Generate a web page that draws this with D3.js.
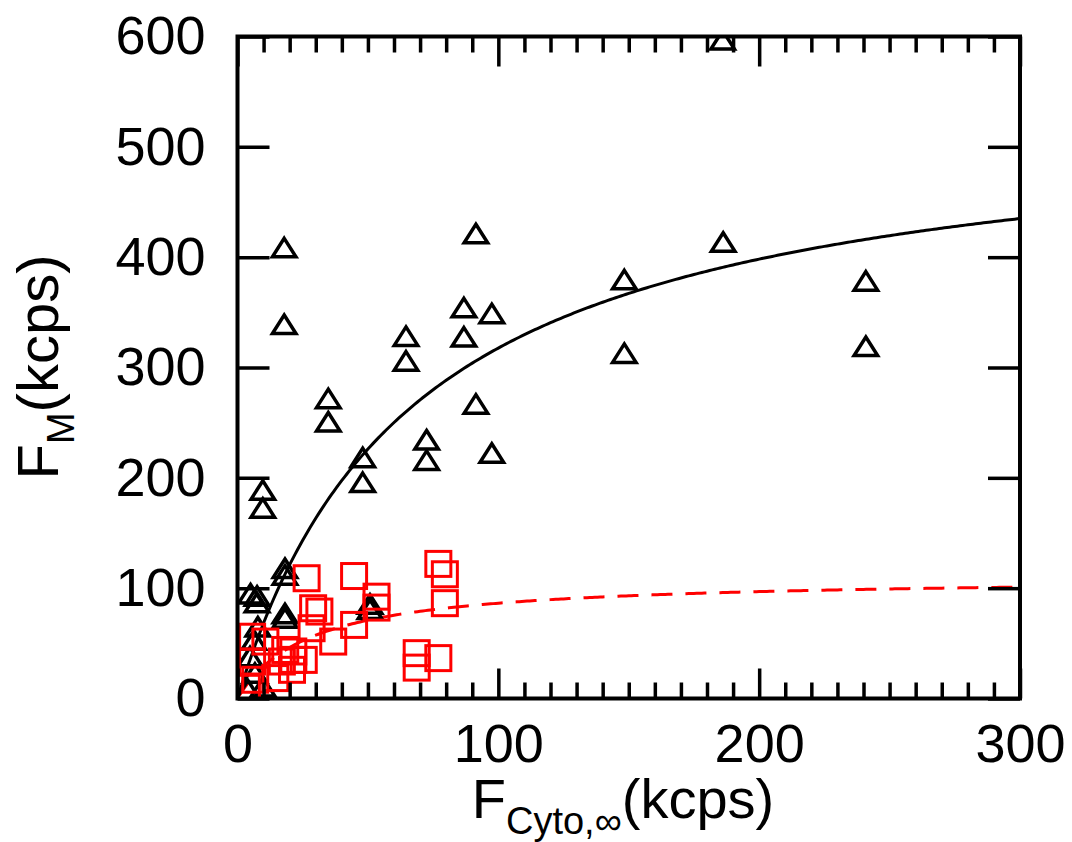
<!DOCTYPE html>
<html>
<head>
<meta charset="utf-8">
<script src="https://cdn.jsdelivr.net/npm/d3@7"></script>
<style>
  html, body { margin: 0; padding: 0; background: #fff; }
  svg { display: block; }
  text { font-family: "Liberation Sans", Arial, Helvetica, sans-serif; fill: #000; }
</style>
</head>
<body>
<svg id="chart" width="1072" height="842"></svg>
<script>
// Membrane brightness F_M against cytosolic brightness F_Cyto,∞ (kcps)
const xTicks = [0, 100, 200, 300];
const yTicks = [0, 100, 200, 300, 400, 500, 600];

// open black triangles
const triX = [17.9, 17.9, 91.4, 86.8, 97.5, 86.8, 64.6, 64.6, 34.8, 34.8, 91.4, 72.5, 72.5, 97.5,
              48.0, 48.0, 9.7, 9.7, 186.2, 148.3, 148.3, 240.9, 240.9, 186.0,
              18.2, 18.2, 18.2, 18.2, 50.8, 50.8, 5.0, 7.5, 7.5, 7.8, 6.3, 4.8, 6.7, 9.8, 4.0];
const triY = [408.7, 339.2, 421.4, 354.3, 349.0, 327.8, 328.4, 306.0, 272.0, 250.8, 267.0, 234.5, 216.0, 222.5,
              218.5, 195.9, 189.0, 172.7, 413.8, 379.7, 313.0, 378.5, 319.3, 597.0,
              118, 112, 77, 73, 85.7, 80.9, 95, 93, 87, 65, 53, 38, 23, 10.6, 8];

// open red squares
const sqX = [26.5, 44.7, 77.0, 79.5, 79.5, 53.3, 53.3, 29.0, 31.4, 28.4, 44.7, 36.7, 68.7, 68.7, 77.0,
             21.4, 21.4, 5.6, 10.7, 18.3, 17.0, 5.6, 6.8, 14.5, 20.9, 3.6, 25.4];
const sqY = [109, 111, 122, 112.6, 86.4, 92.3, 82.4, 81.8, 78.8, 63.7, 66.7, 51.6, 41.1, 28.0, 36.6,
             42.6, 35, 56, 51.6, 44, 33.5, 33.5, 17, 18.5, 26, 9.7, 35];

// saturation fits  y = A·x / (K + x)
const fitBlack = [533.6, 68.0];
const fitRed = [110.3, 27.7];

const svg = d3.select("#chart");
const L = 237.5, R = 1020, T = 36.5, B = 698.5;

const x = d3.scaleLinear().domain([0, 300]).range([L, R]);
const y = d3.scaleLinear().domain([0, 600]).range([B, T]);

svg.append("defs").append("clipPath").attr("id", "plot")
  .append("rect").attr("x", L).attr("y", T).attr("width", R - L).attr("height", B - T);

const g = svg.append("g").attr("clip-path", "url(#plot)");

// fitted curves
const curve = (p) => d3.range(0, 300.5, 1).map(v => [v, p[0] * v / (p[1] + v)]);
const line = d3.line().x(d => x(d[0])).y(d => y(d[1]));

g.append("path").datum(curve(fitBlack)).attr("d", line)
  .attr("fill", "none").attr("stroke", "#000").attr("stroke-width", 3);

g.append("path").datum(curve(fitRed)).attr("d", line)
  .attr("fill", "none").attr("stroke", "#ff0000").attr("stroke-width", 3)
  .attr("stroke-dasharray", "21,13");

// triangles
const tw = 23.5, th = 18.5;
const tri = `M0,${-th / 2}L${tw / 2},${th / 2}L${-tw / 2},${th / 2}Z`;
g.selectAll("path.tri").data(d3.zip(triX, triY)).join("path")
  .attr("class", "tri")
  .attr("d", tri)
  .attr("transform", d => `translate(${x(d[0])},${y(d[1])})`)
  .attr("fill", "none").attr("stroke", "#000").attr("stroke-width", 3.5)
  .attr("stroke-linejoin", "miter");

// squares
const s = 25;
g.selectAll("rect.sq").data(d3.zip(sqX, sqY)).join("rect")
  .attr("class", "sq")
  .attr("x", d => x(d[0]) - s / 2).attr("y", d => y(d[1]) - s / 2)
  .attr("width", s).attr("height", s)
  .attr("fill", "none").attr("stroke", "#ff0000").attr("stroke-width", 3);

// axes: inward ticks on all four sides
const minorX = d3.range(0, 301, 10).filter(v => v % 100 !== 0);
const fontSize = 54;

function styleAxis(sel) {
  sel.select(".domain").remove();
  sel.selectAll(".tick line").attr("stroke", "#000").attr("stroke-width", 3.5);
  sel.selectAll(".tick text").attr("font-size", fontSize).attr("fill", "#000")
    .style("font-family", '"Liberation Sans", Arial, Helvetica, sans-serif');
}

svg.append("g").attr("transform", `translate(0,${B})`)
  .call(d3.axisBottom(x).tickValues(xTicks).tickSizeInner(-30).tickSizeOuter(0).tickPadding(25).tickFormat(d3.format("d")))
  .call(styleAxis);
svg.append("g").attr("transform", `translate(0,${B})`)
  .call(d3.axisBottom(x).tickValues(minorX).tickSizeInner(-16).tickSizeOuter(0).tickFormat(""))
  .call(styleAxis);
svg.append("g").attr("transform", `translate(0,${T})`)
  .call(d3.axisTop(x).tickValues(xTicks).tickSizeInner(-30).tickSizeOuter(0).tickFormat(""))
  .call(styleAxis);
svg.append("g").attr("transform", `translate(0,${T})`)
  .call(d3.axisTop(x).tickValues(minorX).tickSizeInner(-16).tickSizeOuter(0).tickFormat(""))
  .call(styleAxis);
svg.append("g").attr("transform", `translate(${L},0)`)
  .call(d3.axisLeft(y).tickValues(yTicks).tickSizeInner(-32).tickSizeOuter(0).tickPadding(32).tickFormat(d3.format("d")))
  .call(styleAxis);
svg.append("g").attr("transform", `translate(${R},0)`)
  .call(d3.axisRight(y).tickValues(yTicks).tickSizeInner(-32).tickSizeOuter(0).tickFormat(""))
  .call(styleAxis);

// frame
svg.append("rect").attr("x", L).attr("y", T).attr("width", R - L).attr("height", B - T)
  .attr("fill", "none").attr("stroke", "#000").attr("stroke-width", 4);

// axis titles
const xt = svg.append("text").attr("x", 623).attr("y", 818)
  .attr("text-anchor", "middle").attr("font-size", 56);
xt.append("tspan").text("F");
xt.append("tspan").attr("font-size", 38).attr("dy", 16).text("Cyto,∞");
xt.append("tspan").attr("dy", -16).text("(kcps)");

const yt = svg.append("text").attr("transform", "translate(58,367) rotate(-90)")
  .attr("text-anchor", "middle").attr("font-size", 58);
yt.append("tspan").text("F");
yt.append("tspan").attr("font-size", 38).attr("dy", 16).text("M");
yt.append("tspan").attr("dy", -16).text("(kcps)");
</script>
</body>
</html>
